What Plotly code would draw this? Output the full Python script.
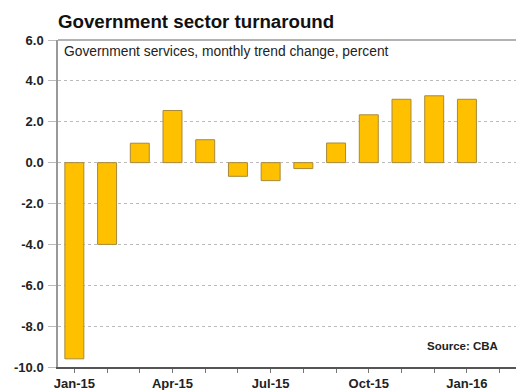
import plotly.graph_objects as go

months = ["Jan-15", "Feb-15", "Mar-15", "Apr-15", "May-15", "Jun-15", "Jul-15",
          "Aug-15", "Sep-15", "Oct-15", "Nov-15", "Dec-15", "Jan-16", "Feb-16"]
values = [-9.6, -4.0, 0.95, 2.55, 1.12, -0.67, -0.88, -0.29, 0.96, 2.34, 3.1, 3.27, 3.1, None]
shown_labels = ["Jan-15", "Apr-15", "Jul-15", "Oct-15", "Jan-16"]
y_ticks = [6, 4, 2, 0, -2, -4, -6, -8, -10]

fig = go.Figure()
fig.add_trace(go.Bar(
    x=months, y=values, width=0.58,
    marker=dict(color="#FFC000", line=dict(color="#A88A3A", width=1)),
))

fig.update_layout(
    width=516, height=390,
    margin=dict(l=58, r=0, t=40, b=23),
    paper_bgcolor="white", plot_bgcolor="white",
    showlegend=False,
    font=dict(family="Liberation Sans, Arial, sans-serif", color="#222"),
    title=dict(text="<b>Government sector turnaround</b>", x=58/516, xanchor="left",
               y=1-21/390, yanchor="middle",
               font=dict(size=18.7, color="#111")),
)
fig.update_xaxes(
    type="category", range=[-0.5, 13.5],
    tickmode="array", tickvals=months,
    ticktext=[m if m in shown_labels else "" for m in months],
    ticks="outside", ticklen=4, tickcolor="#777", tickwidth=1,
    showline=True, linecolor="#555", linewidth=1.5,
    showgrid=False,
    tickfont=dict(size=13, color="#222", family="Liberation Sans, Arial, sans-serif", weight="bold"),
)
fig.update_yaxes(
    range=[-10, 6], tickvals=y_ticks,
    ticktext=[f"{v:.1f}" for v in y_ticks],
    ticks="outside", ticklen=8, tickcolor="#bbb", tickwidth=1,
    ticklabelstandoff=2,
    showline=True, linecolor="#999", linewidth=1.5,
    showgrid=True, gridcolor="#bbb", griddash="dot", gridwidth=1,
    zeroline=False,
    tickfont=dict(size=13, color="#222", family="Liberation Sans, Arial, sans-serif", weight="bold"),
)
fig.add_shape(type="line", xref="paper", yref="paper", x0=0, x1=1, y0=1, y1=1,
              line=dict(color="#999", width=1.5))
fig.add_annotation(text="Government services, monthly trend change, percent",
                   xref="paper", yref="paper", x=0.008, y=0.995, xanchor="left", yanchor="top",
                   showarrow=False, font=dict(size=13.8, color="#222"))
fig.add_annotation(text="<b>Source: CBA</b>",
                   xref="paper", yref="paper", x=0.965, y=0.065, xanchor="right", yanchor="middle",
                   showarrow=False, font=dict(size=11.5, color="#222"))

fig.write_html("out.html")
